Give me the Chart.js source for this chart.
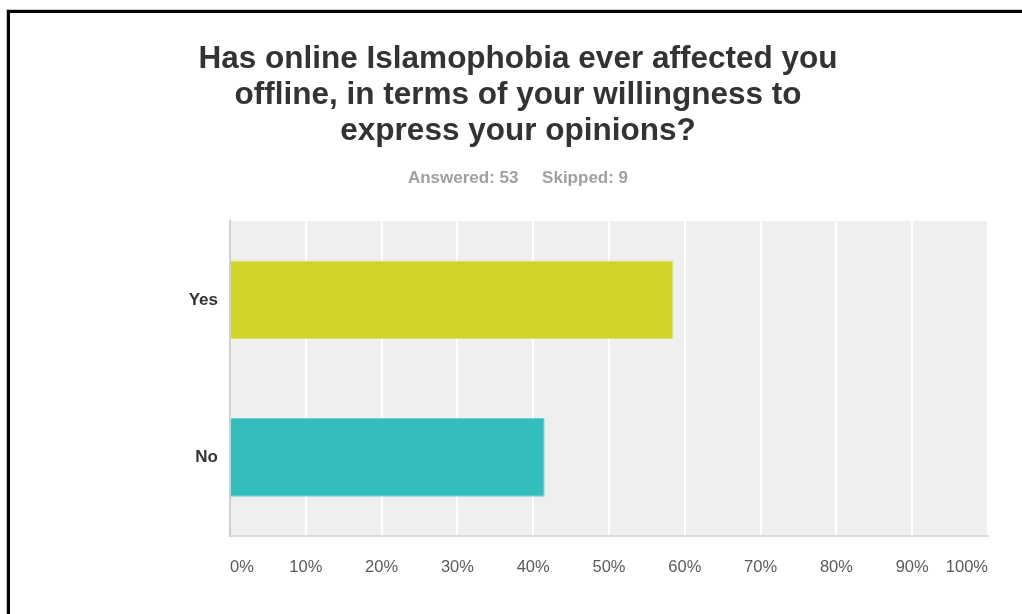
<!DOCTYPE html>
<html>
<head>
<meta charset="utf-8">
<title>Online Islamophobia survey</title>
<script src="https://cdn.jsdelivr.net/npm/chart.js@4.4.1/dist/chart.umd.min.js"></script>
<style>
  html, body { margin: 0; padding: 0; background: #fff; }
  #wrap { position: relative; width: 1022px; height: 614px; overflow: hidden; }
  #frame {
    position: absolute; left: 7px; top: 10px; width: 1100px; height: 700px;
    border-left: 3px solid #000; border-top: 3px solid #000;
    box-shadow: -1px -1px 0 #c8c8c8;
    pointer-events: none;
  }
</style>
</head>
<body>
<div id="wrap">
  <canvas id="chart"></canvas>
  <div id="frame"></div>
</div>
<script>
const questionLines = [
  "Has online Islamophobia ever affected you",
  "offline, in terms of your willingness to",
  "express your opinions?"
];
const answered = 53;
const skipped = 9;
const answers = ["Yes", "No"];
const shares = [58.49, 41.51];
const barColors = ["#d0d42a", "#34bdbd"];
const barEdges = ["#dfe26a", "#6fd2d2"];
const tickStep = 10;

const FONT = "'Liberation Sans', Arial, Helvetica, sans-serif";

// grey panel behind the bars
const plotBackground = {
  id: "plotBackground",
  beforeDraw(chart) {
    const { ctx, chartArea: a } = chart;
    ctx.save();
    ctx.fillStyle = "#efefef";
    ctx.fillRect(a.left, a.top, a.right - a.left, a.bottom - a.top);
    ctx.restore();
  }
};

new Chart(document.getElementById("chart"), {
  type: "bar",
  data: {
    labels: answers,
    datasets: [{
      data: shares,
      backgroundColor: barColors,
      borderColor: barEdges,
      borderWidth: 1,
      borderSkipped: "left",
      categoryPercentage: 1,
      barPercentage: 0.5
    }]
  },
  options: {
    indexAxis: "y",
    responsive: true,
    maintainAspectRatio: false,
    animation: false,
    layout: { padding: { left: 48, right: 34, top: 42, bottom: 16 } },
    plugins: {
      legend: { display: false },
      tooltip: { enabled: false },
      title: {
        display: true,
        text: questionLines,
        color: "#333",
        font: { family: FONT, size: 31.5, weight: "bold", lineHeight: 1.13 },
        padding: { top: 0, bottom: 19 }
      },
      subtitle: {
        display: true,
        text: "Answered: " + answered + "     Skipped: " + skipped,
        color: "#a0a0a0",
        font: { family: FONT, size: 17, weight: "bold", lineHeight: 1.2 },
        padding: { top: 0, bottom: 33 }
      }
    },
    scales: {
      x: {
        min: 0,
        max: 100,
        grid: { color: "#ffffff", lineWidth: 2, drawTicks: false },
        border: { display: true, color: "#dcdcdc", width: 2 },
        ticks: {
          stepSize: tickStep,
          align: "inner",
          padding: 21,
          color: "#5a5a5a",
          font: { family: FONT, size: 16.5 },
          callback: (v) => v + "%"
        }
      },
      y: {
        grid: { display: false, drawTicks: false },
        border: { display: true, color: "#d0d0d0", width: 2 },
        afterFit(scale) { scale.width = 182; },
        ticks: {
          padding: 12,
          color: "#333",
          font: { family: FONT, size: 17, weight: "bold" }
        }
      }
    }
  },
  plugins: [plotBackground]
});
</script>
</body>
</html>
